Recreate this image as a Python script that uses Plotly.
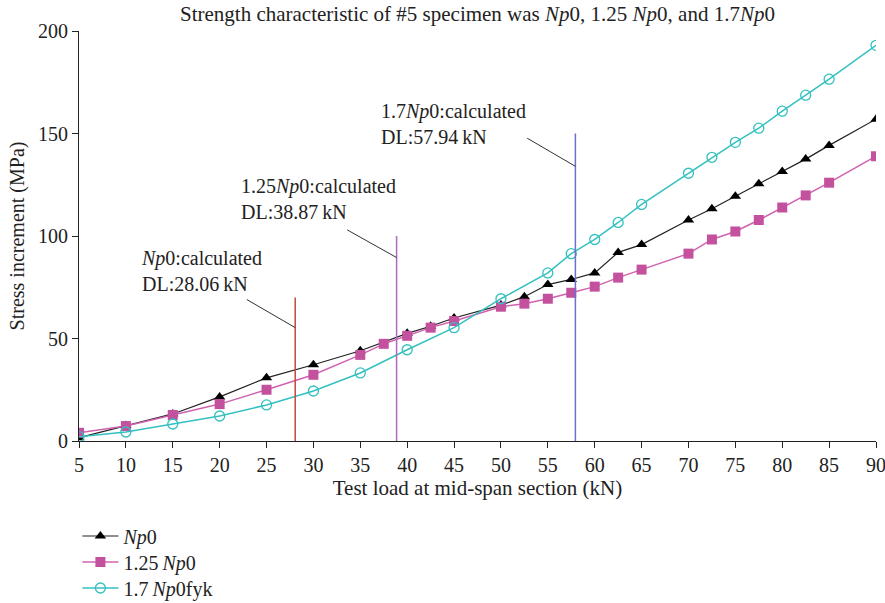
import plotly.graph_objects as go

# ---- data ----
x_np0 = [5, 10, 15, 20, 25, 30, 35, 40, 42.5, 45, 50, 52.5, 55, 57.5, 60, 62.5, 65,
         70, 72.5, 75, 77.5, 80, 82.5, 85, 90]
y_np0 = [1.6, 7.5, 13.2, 21.5, 30.8, 37.2, 44, 52.5, 56, 60, 66.3, 70.4, 76.3, 78.8, 82,
         92, 95.8, 107.8, 113.3, 119.4, 125.5, 131.5, 137.5, 144.2, 157]

x_125 = [5, 10, 15, 20, 25, 30, 35, 37.5, 40, 42.5, 45, 50, 52.5, 55, 57.5, 60, 62.5, 65,
         70, 72.5, 75, 77.5, 80, 82.5, 85, 90]
y_125 = [4, 7.3, 12.7, 18, 25, 32.3, 42, 47.4, 51.3, 55.3, 58.5, 65.5, 67, 69.4, 72.3,
         75.3, 79.7, 83.6, 91.4, 98.3, 102.2, 107.8, 113.9, 119.8, 126, 138.9]

x_17 = [5, 10, 15, 20, 25, 30, 35, 40, 45, 50, 55, 57.5, 60, 62.5, 65, 70, 72.5, 75,
        77.5, 80, 82.5, 85, 90]
y_17 = [2.1, 4.4, 8.3, 12.2, 17.6, 24.4, 33.2, 44.5, 55.3, 69.4, 82, 91.4, 98.3, 106.6,
        115.4, 130.6, 138.4, 145.7, 152.6, 160.9, 168.7, 176.5, 193]

dl_values = [28.06, 38.87, 57.94]
dl_tops = [70, 100, 150]
dl_colors = ["#c8473c", "#b068c0", "#6f6fcc"]
dl_labels = ["<i>Np</i>0:calculated<br>DL:28.06\u2009kN",
             "1.25<i>Np</i>0:calculated<br>DL:38.87\u2009kN",
             "1.7<i>Np</i>0:calculated<br>DL:57.94\u2009kN"]
label_pos = [(11.4, 95.5), (22.1, 130.8), (37.0, 167.2)]
leader_start = [(22.9, 69), (33.6, 103), (52.8, 147.7)]
leader_end = [(28.06, 55.3), (38.87, 89.5), (57.94, 134)]

x_ticks = list(range(5, 95, 5))
y_ticks = [0, 50, 100, 150, 200]

FONT = "Liberation Serif"

legend_ids = ["legend", "legend2", "legend3"]
legend_y = [0.1111, 0.068, 0.0249]

fig = go.Figure()
fig.add_trace(go.Scatter(
    x=x_np0, y=y_np0, name="<i>Np</i>0", mode="lines+markers", legend="legend",
    line=dict(color="#222222", width=1.2),
    marker=dict(symbol="triangle-up", size=10, color="#000000")))
fig.add_trace(go.Scatter(
    x=x_125, y=y_125, name="1.25\u2009<i>Np</i>0", mode="lines+markers", legend="legend2",
    line=dict(color="#d062b0", width=1.5),
    marker=dict(symbol="square", size=10, color="#c4519e")))
fig.add_trace(go.Scatter(
    x=x_17, y=y_17, name="1.7\u2009<i>Np</i>0fyk", mode="lines+markers", legend="legend3",
    line=dict(color="#33c0c0", width=1.5),
    marker=dict(symbol="circle-open", size=10, color="#33c0c0", line=dict(width=1.3))))

shapes = []
for v, top, c in zip(dl_values, dl_tops, dl_colors):
    shapes.append(dict(type="line", xref="x", yref="y", x0=v, x1=v, y0=0, y1=top,
                       line=dict(color=c, width=1.5)))
for (xs, ys), (xe, ye) in zip(leader_start, leader_end):
    shapes.append(dict(type="line", xref="x", yref="y", x0=xs, y0=ys, x1=xe, y1=ye,
                       line=dict(color="#333333", width=1)))

annotations = []
for (ax, ay), txt in zip(label_pos, dl_labels):
    annotations.append(dict(x=ax, y=ay, xref="x", yref="y", text=txt, showarrow=False,
                            xanchor="left", yanchor="top", align="left",
                            font=dict(family=FONT, size=20, color="#222222")))

legend_layout = {}
for lid, ly in zip(legend_ids, legend_y):
    legend_layout[lid] = dict(x=-0.002, xanchor="left", yref="container", y=ly,
                              yanchor="middle",
                              font=dict(family=FONT, size=20, color="#222222"),
                              bgcolor="rgba(0,0,0,0)", itemwidth=36)

fig.update_layout(
    width=885, height=603,
    margin=dict(l=79, r=9, t=31, b=162),
    paper_bgcolor="white", plot_bgcolor="white",
    font=dict(family=FONT, size=19, color="#222222"),
    title=dict(text="Strength characteristic of #5 specimen was <i>Np</i>0, 1.25 <i>Np</i>0, and 1.7<i>Np</i>0",
               x=0.5395, xanchor="center", y=0.989, yanchor="top",
               font=dict(family=FONT, size=21, color="#222222")),
    shapes=shapes, annotations=annotations,
    showlegend=True,
    **legend_layout,
)
fig.update_xaxes(range=[5, 90], tickvals=x_ticks, ticks="outside", ticklen=6,
                 tickcolor="#222222", showline=True, linecolor="#222222", linewidth=1,
                 showgrid=False, zeroline=False, ticklabeloverflow="allow",
                 automargin=False,
                 tickfont=dict(family=FONT, size=20),
                 title=dict(text="Test load at mid-span section (kN)", standoff=4,
                            font=dict(family=FONT, size=21)))
fig.update_yaxes(range=[0, 200], tickvals=y_ticks, ticks="outside", ticklen=6,
                 tickcolor="#222222", showline=True, linecolor="#222222", linewidth=1,
                 showgrid=False, zeroline=False, automargin=False,
                 tickfont=dict(family=FONT, size=20),
                 title=dict(text="Stress increment (MPa)", standoff=8,
                            font=dict(family=FONT, size=20)))

fig.write_html("out.html")
